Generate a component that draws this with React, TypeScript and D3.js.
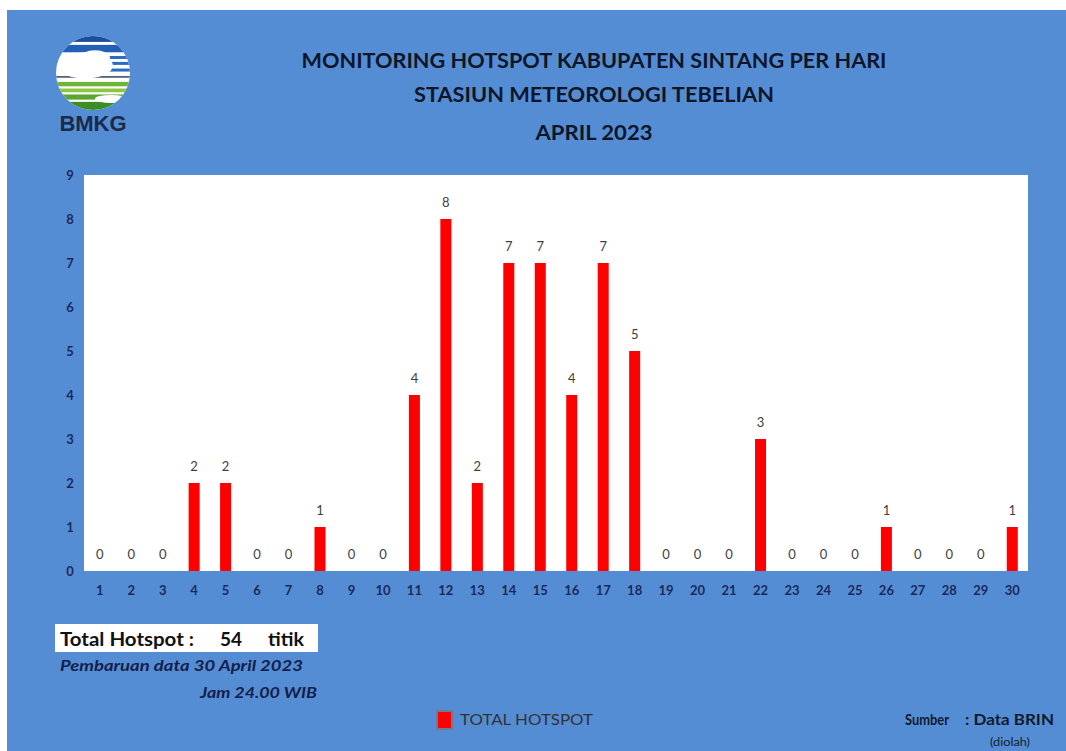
import * as d3 from "d3"
import React from "react"

// hotspot count per day, April 2023
const days = d3.range(1, 31).map(String)
const hotspots = [0, 0, 0, 2, 2, 0, 0, 1, 0, 0, 4, 8, 2, 7, 7, 4, 7, 5, 0, 0, 0, 3, 0, 0, 0, 1, 0, 0, 0, 1]
const yTicks = [0, 1, 2, 3, 4, 5, 6, 7, 8, 9]
const titleLines = [
  "MONITORING HOTSPOT KABUPATEN SINTANG PER HARI",
  "STASIUN METEOROLOGI TEBELIAN",
  "APRIL 2023",
]

const W = 1066
const H = 751
const BG = "#558dd5"
const NAVY = "#1a2a58"
const FONT = "Lato, 'Open Sans', sans-serif"

const Logo = () => {
  const cx = 93, cy = 73, r = 37
  const top = cy - r
  // stripes as fractions of the diameter
  const stripes = [
    { f: 0.0, h: 0.08, c: "#1d4e9e" },
    { f: 0.12, h: 0.1, c: "#2160b5" },
    { f: 0.54, h: 0.025, c: "#55647a" },
    { f: 0.62, h: 0.06, c: "#6fb43a" },
    { f: 0.71, h: 0.05, c: "#8dc63f" },
    { f: 0.79, h: 0.07, c: "#5aa633" },
    { f: 0.89, h: 0.11, c: "#3b8d24" },
  ]
  const streaks = [0.27, 0.35, 0.44]
  return (
    <g>
      <defs>
        <clipPath id="logoClip">
          <circle cx={cx} cy={cy} r={r} />
        </clipPath>
      </defs>
      <g clipPath="url(#logoClip)">
        <rect x={cx - r} y={top} width={2 * r} height={2 * r} fill="#ffffff" />
        {stripes.map((s, i) => (
          <rect key={i} x={cx - r} y={top + s.f * 2 * r} width={2 * r} height={s.h * 2 * r} fill={s.c} />
        ))}
        {streaks.map((f, i) => (
          <rect key={"s" + i} x={cx + 8 + i * 4} y={top + f * 2 * r} width={40} height={3} fill="#2a6cc4" />
        ))}
        {/* cloud */}
        <ellipse cx={cx - 8} cy={top + 0.4 * 2 * r} rx={28} ry={13} fill="#ffffff" />
        <ellipse cx={cx + 2} cy={top + 0.3 * 2 * r} rx={15} ry={8} fill="#ffffff" />
        <ellipse cx={cx + 18} cy={top + 0.85 * 2 * r} rx={16} ry={4} fill="#ffffff" />
      </g>
      <text x={cx} y={131} textAnchor="middle" fontFamily="'Liberation Sans', Arial, sans-serif"
        fontWeight="bold" fontSize={22} fill="#1a2a48">BMKG</text>
    </g>
  )
}

export default function App() {
  const left = 84, right = 1028, top = 175, bottom = 571
  const x = d3.scaleBand().domain(days).range([left, right]).paddingInner(0.65).paddingOuter(0.325)
  const y = d3.scaleLinear().domain([0, 9]).range([bottom, top])
  const titleY = [68, 102, 140]
  const titleW = [585, 360, 117]

  return (
    <>
      <style>{"body{margin:0}"}</style>
      <svg width={W} height={H} viewBox={`0 0 ${W} ${H}`} style={{ display: "block" }}>
        <rect width={W} height={H} fill="#ffffff" />
        <rect x={7} y={10} width={W - 7} height={H - 10} fill={BG} />

        <Logo />

        {titleLines.map((t, i) => (
          <text key={t} x={594} y={titleY[i]} textAnchor="middle" fontFamily={FONT}
            fontWeight="bold" fontSize={21} fill="#0e1628"
            textLength={titleW[i]} lengthAdjust="spacingAndGlyphs">{t}</text>
        ))}

        {/* plot area */}
        <rect x={left} y={top} width={right - left} height={bottom - top} fill="#ffffff" />

        {yTicks.map(t => (
          <text key={t} x={70} y={y(t) + 5} textAnchor="middle" fontFamily={FONT}
            fontSize={13} fontWeight="bold" fill={NAVY}>{t}</text>
        ))}

        {days.map((d, i) => {
          const v = hotspots[i]
          const bx = x(d) as number
          const cx = bx + x.bandwidth() / 2
          return (
            <g key={d}>
              {v > 0 && (
                <rect x={bx} y={y(v)} width={x.bandwidth()} height={y(0) - y(v)} fill="#ff0000" />
              )}
              <text x={cx} y={y(v) - 12} textAnchor="middle" fontFamily={FONT}
                fontSize={13} fill="#404040">{v}</text>
              <text x={cx} y={595} textAnchor="middle" fontFamily={FONT}
                fontSize={13} fontWeight="bold" fill={NAVY}>{d}</text>
            </g>
          )
        })}

        {/* total box */}
        <rect x={55} y={624} width={263} height={28} fill="#ffffff" />
        <text x={60} y={646} fontFamily={FONT} fontWeight="bold" fontSize={19} fill="#111111"
          textLength={134} lengthAdjust="spacingAndGlyphs">Total Hotspot :</text>
        <text x={220} y={646} fontFamily={FONT} fontWeight="bold" fontSize={19} fill="#111111">
          {d3.sum(hotspots)}
        </text>
        <text x={268} y={646} fontFamily={FONT} fontWeight="bold" fontSize={19} fill="#111111"
          textLength={36} lengthAdjust="spacingAndGlyphs">titik</text>
        <text x={60} y={671} fontFamily={FONT} fontWeight="bold" fontStyle="italic" fontSize={16}
          fill="#14204a" textLength={243} lengthAdjust="spacingAndGlyphs">Pembaruan data 30 April 2023</text>
        <text x={200} y={698} fontFamily={FONT} fontWeight="bold" fontStyle="italic"
          fontSize={16} fill="#14204a" textLength={117} lengthAdjust="spacingAndGlyphs">Jam 24.00 WIB</text>

        {/* legend */}
        <rect x={437} y={711} width={15} height={18} fill="#ff0000" stroke="#6b7a99" strokeWidth={2} />
        <text x={460} y={725} fontFamily={FONT} fontSize={16} fill="#333333"
          textLength={133} lengthAdjust="spacingAndGlyphs">TOTAL HOTSPOT</text>

        {/* source */}
        <text x={905} y={725} fontFamily={FONT} fontWeight="bold" fontSize={15} fill="#111a2e"
          textLength={44} lengthAdjust="spacingAndGlyphs">Sumber</text>
        <text x={965} y={725} fontFamily={FONT} fontWeight="bold" fontSize={15} fill="#111a2e"
          textLength={89} lengthAdjust="spacingAndGlyphs">: Data BRIN</text>
        <text x={990} y={746} fontFamily={FONT} fontSize={12} fill="#111a2e"
          textLength={40} lengthAdjust="spacingAndGlyphs">(diolah)</text>
      </svg>
    </>
  )
}
